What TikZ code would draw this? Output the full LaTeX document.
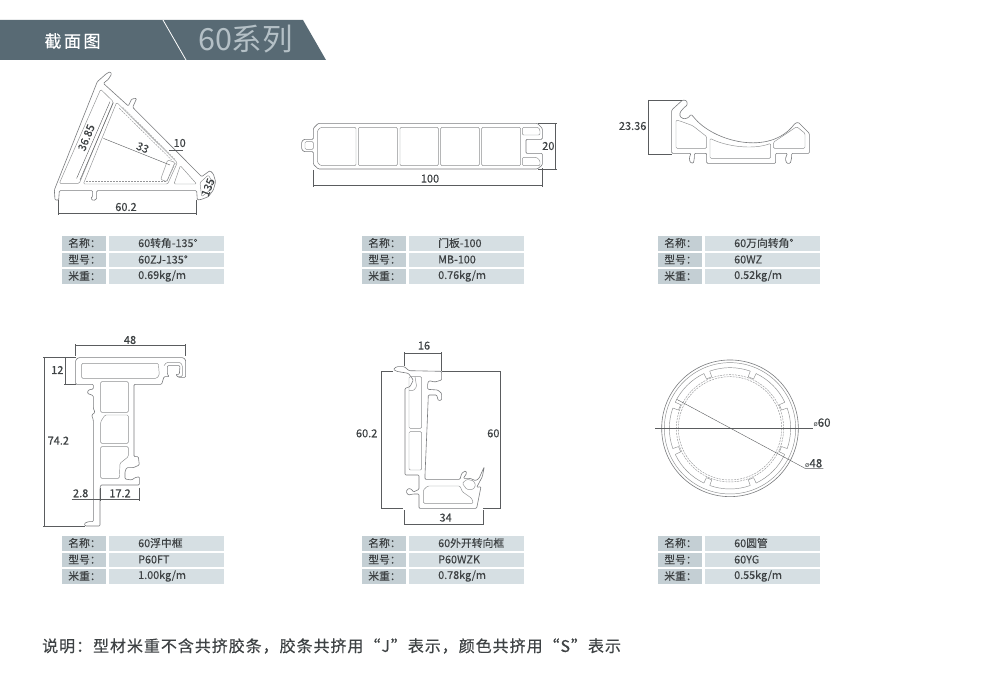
\documentclass[tikz,border=0pt]{standalone}
\usepackage{fontspec}
\setmainfont{Noto Sans CJK SC}
\newfontfamily\nb[FakeBold=0.22]{Noto Sans CJK SC}
\newfontfamily\nbs[FakeBold=0.22,LetterSpace=6]{Noto Sans CJK SC}
\newfontfamily\plainf{Noto Sans CJK SC}
\newcommand{\fcolon}{\char"FF1A\relax}
\newcommand{\fcomma}{\char"FF0C\relax}
\definecolor{lc}{HTML}{7A7C7E}
\definecolor{dc}{HTML}{5A5C5E}
\definecolor{tx}{HTML}{3E4244}
\definecolor{ban}{HTML}{586A74}
\definecolor{cola}{HTML}{C4CFD4}
\definecolor{colb}{HTML}{D6DFE3}
\tikzset{
  prof/.style={draw=lc,line width=.6pt,rounded corners=1pt,line join=round},
  inner/.style={draw=lc!85,line width=.45pt,rounded corners=1.2pt,line join=round},
  dimln/.style={draw=dc,line width=.4pt},
  dashln/.style={draw=lc!80,line width=.45pt,dash pattern=on 2pt off 1pt},
  lab/.style={text=tx,font=\nb\fontsize{11}{11}\selectfont,inner sep=0pt},
  cella/.style={text=tx,font=\nb\fontsize{10.8}{11}\selectfont,inner sep=0pt},
  zm/.style={x=.33333pt,y=-.33333pt}
}
\newcommand{\spectable}[6]{% id,x,y,name,model,weight
  \fill[cola] (#2,#3) rectangle ++(44,14.5);
  \fill[cola] (#2,#3+16.5) rectangle ++(44,14.5);
  \fill[cola] (#2,#3+33) rectangle ++(44,14.5);
  \fill[colb] (#2+47,#3) rectangle ++(114.5,14.5);
  \fill[colb] (#2+47,#3+16.5) rectangle ++(114.5,14.5);
  \fill[colb] (#2+47,#3+33) rectangle ++(114.5,14.5);
  \node[cella] (#1a) at (#2+22.5,#3+7) {名称\fcolon};
  \node[cella] (#1b) at (#2+22.5,#3+23.5) {型号\fcolon};
  \node[cella] (#1c) at (#2+22.5,#3+40) {米重\fcolon};
  \node[cella,anchor=west] (#1d) at (#2+76,#3+7) {#4};
  \node[cella,anchor=west] (#1e) at (#2+76,#3+23.5) {#5};
  \node[cella,anchor=west] (#1f) at (#2+76,#3+40) {#6};
}
\begin{document}
\begin{tikzpicture}[x=1pt,y=-1pt]
\useasboundingbox (0,0) rectangle (1000,674);
\fill[white] (0,0) rectangle (1000,674);
% banner
\fill[ban] (0,20) -- (303,20) -- (326,60) -- (0,60) -- cycle;
\draw[white,line width=.8pt] (163,20) -- (186,60);
\node[text=white,inner sep=0pt,font=\nb\fontsize{17}{17}\selectfont] (ttl) at (72.5,41) {截\hspace{2.5pt}面\hspace{2.5pt}图};
\node[text=cola!85!ban,inner sep=0pt,font=\fontsize{30.5}{30}\selectfont] (ser) at (245.5,39) {60系列};

% ---------- profile 1
\begin{scope}[shift={(0,0)},zm]
\path[prof] (292,245) -- (318,222) -- (330,215) -- (335,222) -- (325,238) -- (310,250)
 -- (385,318) -- (395,297) -- (410,295) -- (398,322) -- (605,530) -- (630,512) -- (640,522) -- (647,545) -- (640,570) -- (625,590) -- (605,598) -- (592,600)
 -- (590,572) -- (290,572) -- (290,597) -- (280,602) -- (272,595) -- (278,590) -- (278,572) -- (178,572) -- (176,600) -- (165,600) -- (163,570) -- cycle;
\path[inner] (302,268) -- (340,305) -- (238,550) -- (178,550) -- cycle;
\path[inner] (350,307) -- (532,488) -- (503,552) -- (250,552) -- cycle;
\path[inner] (541,497) -- (590,552) -- (522,552) -- cycle;
\path[inner] (600,548) -- (625,525) -- (637,545) -- (628,572) -- (605,590) -- cycle;
\draw[dashln] (358,325) -- (515,480);
\draw[dashln] (368,322) -- (525,478);
\draw[dashln] (258,545) -- (498,545);
\draw[dashln] (526,490) -- (500,545);
\path[inner] (503,480) -- (525,487) -- (500,545) -- (482,538) -- cycle;
\draw[dimln] (330,305) -- (230,535);
\draw[dimln] (340,308) -- (240,540);
\draw[dimln] (310,415) -- (510,495);
\draw[dimln] (508,452) -- (550,452);
\draw[dimln] (175,640) -- (590,640);
\draw[dimln] (175,600) -- (175,645);
\draw[dimln] (590,600) -- (590,645);
\node[lab,rotate=68] (d1a) at (259,413) {36.85};
\node[lab,rotate=-22] (d1b) at (428,443) {33};
\node[lab] (d1c) at (539,429) {10};
\node[lab] (d1d) at (378,621) {60.2};
\node[lab,rotate=68] (d1e) at (624,562) {135};
\end{scope}

% ---------- profile 2
\begin{scope}[shift={(290,100)},zm]
\path[prof] (70,85) -- (85,70) -- (742,70) -- (757,85) -- (757,118) -- (708,118) -- (708,160) -- (757,160) -- (757,195) -- (742,207) -- (85,207) -- (70,193) -- (70,155) -- (42,155) -- (35,148) -- (35,125) -- (42,118) -- (70,118) -- cycle;
\path[inner] (45,125) -- (70,125) -- (70,148) -- (45,148) -- cycle;
\path[inner] (92,82) -- (198,82) -- (198,197) -- (92,197) -- (82,187) -- (82,92) -- cycle;
\foreach \a/\b in {205/322,330/445,452/568,575/692}{
  \path[inner] (\a,82) -- (\b,82) -- (\b,197) -- (\a,197) -- cycle;
}
\path[inner] (697,82) -- (745,82) -- (750,90) -- (750,105) -- (697,105) -- cycle;
\path[inner] (697,172) -- (740,172) -- (750,182) -- (750,197) -- (697,197) -- cycle;
\draw[dimln] (70,257) -- (757,257);
\draw[dimln] (70,210) -- (70,262);
\draw[dimln] (757,205) -- (757,262);
\draw[dimln] (745,70) -- (800,70);
\draw[dimln] (745,207) -- (800,207);
\draw[dimln] (795,70) -- (795,207);
\node[lab] (d2a) at (420,236) {100};
\node[lab] (d2b) at (775,138) {20};
\end{scope}

% ---------- profile 3
\begin{scope}[shift={(610,85)},zm]
\path[prof] (185,205) -- (185,75) -- (218,45) -- (230,47) -- (232,60) -- (222,68) -- (210,82) -- (210,95) -- (222,102) -- (235,98) -- (243,88) -- (250,95)
 .. controls (310,170) and (480,215) .. (555,115) -- (565,112) -- (598,145) -- (598,205) -- (545,205) -- (545,218) -- (541,235) -- (530,235) -- (526,222) -- (532,205) -- (497,205) -- (497,235) -- (290,235) -- (290,205) -- (253,205) -- (253,220) -- (250,235) -- (240,232) -- (238,218) -- (243,205) -- cycle;
\path[inner] (198,105) -- (210,108) -- (248,122) -- (290,155) -- (290,190) -- (198,190) -- cycle;
\path[inner] (300,160) .. controls (350,185) and (430,195) .. (482,175) -- (482,220) -- (300,220) -- cycle;
\path[inner] (490,172) -- (560,125) -- (585,145) -- (585,190) -- (490,190) -- cycle;
\draw[dimln] (115,45) -- (215,45);
\draw[dimln] (115,207) -- (185,207);
\draw[dimln] (115,45) -- (115,207);
\node[lab] (d3a) at (68,123) {23.36};
\end{scope}

% ---------- profile 4
\begin{scope}[shift={(30,325)},zm]
\path[prof] (137,105) -- (145,98) -- (460,98) -- (467,105) -- (467,157) -- (445,157) -- (437,148) -- (448,148) -- (450,122) -- (412,122) -- (412,148) -- (418,155) -- (402,155) -- (395,178) -- (312,178) -- (312,395) -- (325,395) -- (328,420) -- (310,428) -- (290,428) -- (285,440) -- (285,462) -- (305,465) -- (315,458) -- (328,455) -- (328,480) -- (212,480) -- (210,490) -- (210,603) -- (165,603) -- (163,595) -- (175,590) -- (190,590) -- (190,285) -- (185,270) -- (195,262) -- (190,250) -- (190,212) -- (172,205) -- (175,195) -- (190,192) -- (190,178) -- (137,178) -- cycle;
\path[inner] (155,115) -- (385,115) -- (388,150) -- (380,160) -- (155,160) -- cycle;
\path[inner] (402,122) -- (410,112) -- (450,112) -- (457,120) -- (457,155) -- (445,155);
\path[inner] (212,170) -- (295,170) -- (295,262) -- (225,262) -- (212,262) -- cycle;
\path[inner] (212,290) -- (225,270) -- (295,270) -- (295,355) -- (212,355) -- cycle;
\path[inner] (212,365) -- (295,365) -- (295,395) -- (270,415) -- (268,460) -- (212,460) -- cycle;
\draw[dimln] (137,62) -- (467,62);
\draw[dimln] (137,58) -- (137,92);
\draw[dimln] (467,58) -- (467,92);
\draw[dimln] (105,98) -- (105,178);
\draw[dimln] (102,98) -- (137,98);
\draw[dimln] (102,178) -- (137,178);
\draw[dimln] (43,98) -- (43,603);
\draw[dimln] (40,98) -- (102,98);
\draw[dimln] (40,603) -- (165,603);
\draw[dimln] (125,522) -- (328,522);
\draw[dimln] (328,488) -- (328,527);
\draw[dimln] (210,488) -- (210,527);
\node[lab] (d4a) at (300,45) {48};
\node[lab] (d4b) at (82,135) {12};
\node[lab] (d4c) at (85,347) {74.2};
\node[lab] (d4d) at (152,505) {2.8};
\node[lab] (d4e) at (270,505) {17.2};
\end{scope}

% ---------- profile 5
\begin{scope}[shift={(345,330)},zm]
\path[prof] (145,118) -- (155,110) -- (178,110) -- (192,122) -- (290,124) -- (290,150) -- (270,156) -- (252,152) -- (248,160) -- (248,178) -- (278,180) -- (290,190) -- (290,210) -- (280,212) -- (275,195) -- (250,195) -- (247,270) -- (240,435) -- (240,448) -- (345,448) -- (350,430) -- (362,422) -- (365,430) -- (355,445) -- (375,445) -- (392,452) -- (402,445) -- (418,410) -- (412,440) -- (395,472) -- (408,470) -- (395,535) -- (222,535) -- (222,492) -- (205,492) -- (190,495) -- (183,485) -- (190,475) -- (200,478) -- (205,486) -- (222,478) -- (222,435) -- (180,435) -- (180,175) -- (195,170) -- (205,150) -- (190,130) -- (155,124) -- cycle;
\path[inner] (192,140) -- (230,140) -- (230,295) -- (192,295) -- cycle;
\path[inner] (192,305) -- (230,305) -- (230,420) -- (192,420) -- cycle;
\path[inner] (235,480) -- (248,468) -- (345,468) -- (352,485) -- (380,505) -- (385,520) -- (235,520) -- cycle;
\path[inner] (352,460) -- (365,448) -- (385,452) -- (392,465) -- (385,478) -- (365,478) -- cycle;
\path[inner] (210,140) -- (215,170) -- (205,182) -- (192,182);
\draw[dimln] (178,70) -- (288,70);
\draw[dimln] (178,66) -- (178,108);
\draw[dimln] (288,66) -- (288,122);
\draw[dimln] (108,124) -- (145,124);
\draw[dimln] (108,535) -- (175,535);
\draw[dimln] (108,124) -- (108,535);
\draw[dimln] (290,124) -- (467,124);
\draw[dimln] (415,535) -- (467,535);
\draw[dimln] (467,124) -- (467,535);
\draw[dimln] (178,582) -- (414,582);
\draw[dimln] (178,540) -- (178,586);
\draw[dimln] (414,540) -- (414,586);
\node[lab] (d5a) at (237,47) {16};
\node[lab] (d5b) at (65,310) {60.2};
\node[lab] (d5c) at (445,310) {60};
\node[lab] (d5d) at (302,563) {34};
\end{scope}

% ---------- profile 6
\begin{scope}[shift={(730,428.3)},zm]
\draw[prof] (0,0) circle (205);
\draw[inner] (0,0) circle (197);
\foreach \a in {22.5,67.5,...,337.5}{
  \draw[inner] (\a+3:182) arc[start angle=\a+3,end angle=\a+42,radius=182];
  \draw[inner] (\a-3:182) -- (\a-3:164);
  \draw[inner] (\a+3:182) -- (\a+3:164);
  \draw[inner] (\a-3:164) arc[start angle=\a-3,end angle=\a+3,radius=164];
}
\draw[dashln] (0,0) circle (161);
\draw[dashln] (0,0) circle (155);
\draw[dimln] (-225,0) -- (250,0);
\draw[dimln] (-160,-87) -- (225,120) -- (280,120);
\node[lab,anchor=west] (d6a) at (250,-17) {{\plainf\fontsize{7}{7}\selectfont ø}{\fontsize{11.5}{11}\selectfont 60}};
\node[lab,anchor=west] (d6b) at (225,105) {{\plainf\fontsize{7}{7}\selectfont ø}{\fontsize{11.5}{11}\selectfont 48}};
\end{scope}

\spectable{ta}{62}{236}{60转角-135°}{60ZJ-135°}{0.69kg/m}
\spectable{tb}{362}{236}{门板-100}{MB-100}{0.76kg/m}
\spectable{tc}{658}{236}{60万向转角°}{60WZ}{0.52kg/m}
\spectable{td}{62}{536}{60浮中框}{P60FT}{1.00kg/m}
\spectable{te}{362}{536}{60外开转向框}{P60WZK}{0.78kg/m}
\spectable{tf}{658}{536}{60圆管}{60YG}{0.55kg/m}

\node[text=tx,anchor=west,inner sep=0pt,font=\nbs\fontsize{16}{16}\selectfont] (note) at (42,646) {说明\fcolon 型材米重不含共挤胶条\fcomma 胶条共挤用“J”表示\fcomma 颜色共挤用“S”表示};
\end{tikzpicture}
\end{document}
